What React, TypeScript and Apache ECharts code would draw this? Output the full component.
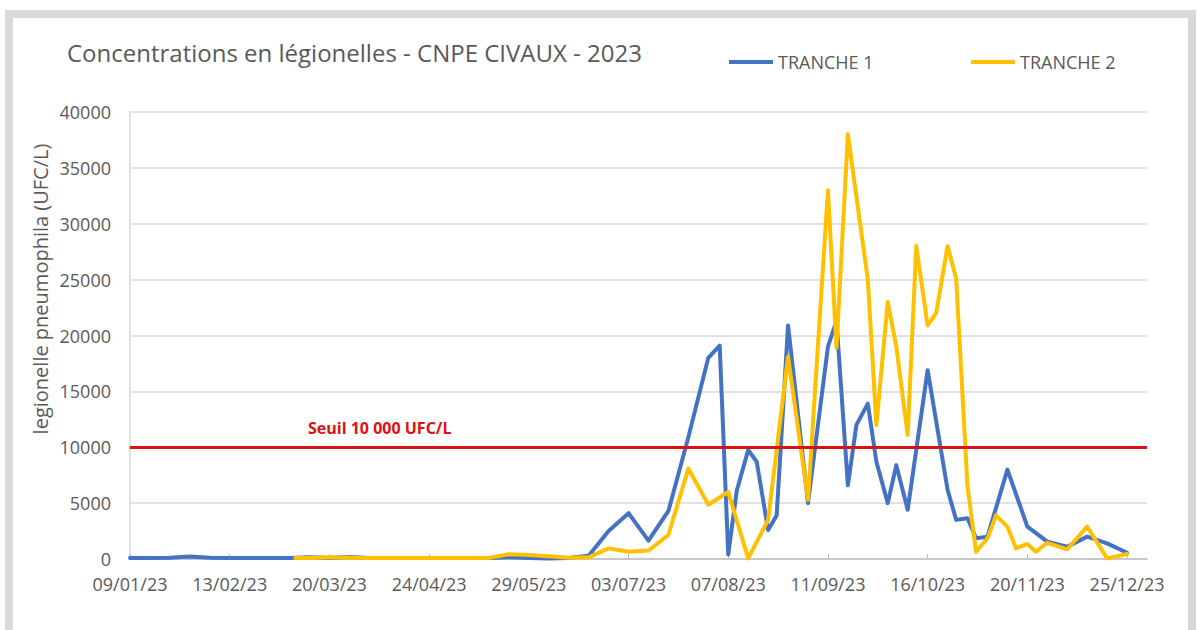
import React, { useEffect, useRef } from "react";
import * as echarts from "echarts";

const chartTitle = "Concentrations en légionelles - CNPE CIVAUX - 2023";
const seriesNames = ["TRANCHE 1", "TRANCHE 2"];
const yAxisTitle = "legionelle pneumophila (UFC/L)";
const thresholdValue = 10000;
const thresholdLabel = "Seuil 10 000 UFC/L";
const xTickLabels = [
  "09/01/23", "13/02/23", "20/03/23", "24/04/23", "29/05/23", "03/07/23",
  "07/08/23", "11/09/23", "16/10/23", "20/11/23", "25/12/23",
];
const axisEndDate = "01/01/24";
const yMax = 40000;
const yStep = 5000;

const datesT1 = [
  "09/01/23", "16/01/23", "23/01/23", "30/01/23", "06/02/23", "13/02/23", "20/02/23", "27/02/23",
  "06/03/23", "13/03/23", "20/03/23", "27/03/23", "03/04/23", "10/04/23", "17/04/23", "24/04/23",
  "01/05/23", "08/05/23", "15/05/23", "22/05/23", "29/05/23", "05/06/23", "12/06/23", "19/06/23",
  "26/06/23", "03/07/23", "10/07/23", "17/07/23", "24/07/23", "31/07/23", "04/08/23", "07/08/23",
  "10/08/23", "14/08/23", "17/08/23", "21/08/23", "24/08/23", "28/08/23", "04/09/23", "11/09/23",
  "14/09/23", "18/09/23", "21/09/23", "25/09/23", "28/09/23", "02/10/23", "05/10/23", "09/10/23",
  "16/10/23", "23/10/23", "26/10/23", "30/10/23", "02/11/23", "06/11/23", "13/11/23", "20/11/23",
  "27/11/23", "04/12/23", "11/12/23", "18/12/23", "25/12/23",
];
const valuesT1 = [
  100, 100, 120, 220, 120, 100, 100, 100,
  100, 150, 100, 180, 100, 100, 100, 100,
  100, 100, 100, 150, 100, 50, 100, 300,
  2500, 4100, 1650, 4300, 10900, 18000, 19100, 400,
  6100, 9750, 8700, 2600, 3900, 20900, 5000, 19000,
  21300, 6600, 12000, 13900, 8700, 5000, 8400, 4400,
  16900, 6200, 3500, 3650, 1850, 2000, 8000, 2900,
  1550, 1100, 2000, 1400, 560,
];

const datesT2 = [
  "08/03/23", "13/03/23", "20/03/23", "27/03/23", "03/04/23", "10/04/23", "17/04/23", "24/04/23",
  "01/05/23", "08/05/23", "15/05/23", "22/05/23", "29/05/23", "05/06/23", "12/06/23", "19/06/23",
  "26/06/23", "03/07/23", "10/07/23", "17/07/23", "24/07/23", "31/07/23", "07/08/23", "14/08/23",
  "21/08/23", "28/08/23", "04/09/23", "11/09/23", "14/09/23", "18/09/23", "25/09/23", "28/09/23",
  "02/10/23", "05/10/23", "09/10/23", "12/10/23", "16/10/23", "19/10/23", "23/10/23", "26/10/23",
  "30/10/23", "02/11/23", "06/11/23", "09/11/23", "13/11/23", "16/11/23", "20/11/23", "23/11/23",
  "27/11/23", "04/12/23", "11/12/23", "18/12/23", "25/12/23",
];
const valuesT2 = [
  100, 100, 150, 120, 100, 100, 100, 100,
  100, 100, 100, 420, 350, 250, 120, 150,
  950, 650, 750, 2150, 8100, 4850, 6000, 50,
  3500, 18100, 5300, 33000, 18900, 38000, 25000, 12000,
  23000, 19000, 11100, 28000, 20900, 22000, 28000, 25100,
  6500, 650, 1850, 3900, 2900, 950, 1350, 650,
  1450, 870, 2900, 60, 450,
];

const FONT = "Open Sans";
const TEXT_COLOR = "#595959";
const COLORS = ["#4472c4", "#ffc000"];

const parseDate = (s: string) => {
  const [d, m, y] = s.split("/").map(Number);
  return Date.UTC(2000 + y, m - 1, d);
};
const origin = parseDate(xTickLabels[0]);
const toDay = (s: string) => Math.round((parseDate(s) - origin) / 86400000);
const tickDays = xTickLabels.map(toDay);

export default function App() {
  const ref = useRef<HTMLDivElement>(null);
  useEffect(() => {
    const chart = echarts.init(ref.current!, null, { renderer: "svg" });
    const mk = (dates: string[], values: number[]) => dates.map((d, i) => [toDay(d), values[i]]);
    const legendBase = {
      padding: 0,
      icon: "rect",
      itemWidth: 44,
      itemHeight: 4,
      itemGap: 5,
      textStyle: { fontFamily: FONT, fontSize: 18, color: TEXT_COLOR },
    };
    chart.setOption({
      animation: false,
      backgroundColor: "#ffffff",
      textStyle: { fontFamily: FONT },
      title: {
        text: chartTitle,
        left: 67,
        top: 40,
        padding: 0,
        textStyle: { fontFamily: FONT, fontSize: 24, fontWeight: "normal", color: TEXT_COLOR },
      },
      legend: [
        { ...legendBase, data: [seriesNames[0]], left: 729, top: 53 },
        { ...legendBase, data: [seriesNames[1]], left: 971, top: 53 },
      ],
      grid: { left: 130, top: 112, width: 1017, height: 447, containLabel: false },
      xAxis: {
        type: "value",
        min: 0,
        max: toDay(axisEndDate),
        axisLine: { show: true, lineStyle: { color: "#bfbfbf", width: 1.5 } },
        axisTick: {
          show: true,
          inside: true,
          length: 5,
          customValues: tickDays,
          lineStyle: { color: "#bfbfbf", width: 1 },
        },
        axisLabel: {
          customValues: tickDays,
          formatter: (v: number) => {
            const i = tickDays.indexOf(Math.round(v));
            return i >= 0 ? xTickLabels[i] : "";
          },
          fontFamily: FONT,
          fontSize: 18,
          color: TEXT_COLOR,
          margin: 16,
        },
        splitLine: { show: false },
      },
      yAxis: {
        type: "value",
        min: 0,
        max: yMax,
        interval: yStep,
        axisLine: { show: true, lineStyle: { color: "#d9d9d9", width: 1.5 } },
        axisTick: { show: false },
        axisLabel: {
          formatter: (v: number) => String(v),
          fontFamily: FONT,
          fontSize: 18,
          color: TEXT_COLOR,
          margin: 19,
        },
        splitLine: { show: true, lineStyle: { color: "#d9d9d9", width: 1.5 } },
      },
      graphic: [
        {
          type: "rect",
          shape: { x: 9, y: 14, width: 1183, height: 640 },
          style: { fill: "none", stroke: "#d9d9d9", lineWidth: 8 },
          silent: true,
        },
        {
          type: "text",
          x: 40,
          y: 289,
          rotation: Math.PI / 2,
          style: {
            text: yAxisTitle,
            fontFamily: FONT,
            fontSize: 20,
            fill: TEXT_COLOR,
            textAlign: "center",
            textVerticalAlign: "middle",
          },
        },
        {
          type: "text",
          x: 308,
          y: 428,
          style: {
            text: thresholdLabel,
            fontFamily: FONT,
            fontSize: 16,
            fontWeight: "bold",
            fill: "#e01010",
            textAlign: "left",
            textVerticalAlign: "middle",
          },
        },
      ],
      series: [
        {
          name: "seuil",
          type: "line",
          data: [],
          z: 1,
          markLine: {
            silent: true,
            symbol: "none",
            label: { show: false },
            lineStyle: { color: "#dd1111", width: 3, type: "solid" },
            data: [{ yAxis: thresholdValue }],
          },
        },
        {
          name: seriesNames[0],
          type: "line",
          data: mk(datesT1, valuesT1),
          showSymbol: false,
          z: 2,
          color: COLORS[0],
          lineStyle: { color: COLORS[0], width: 4, cap: "round", join: "round" },
        },
        {
          name: seriesNames[1],
          type: "line",
          data: mk(datesT2, valuesT2),
          showSymbol: false,
          z: 3,
          color: COLORS[1],
          lineStyle: { color: COLORS[1], width: 4, cap: "round", join: "round" },
        },
      ],
    });
    return () => chart.dispose();
  }, []);
  return (
    <div
      ref={ref}
      style={{ position: "fixed", left: 0, top: 0, width: 1198, height: 630, background: "#fff" }}
    />
  );
}
